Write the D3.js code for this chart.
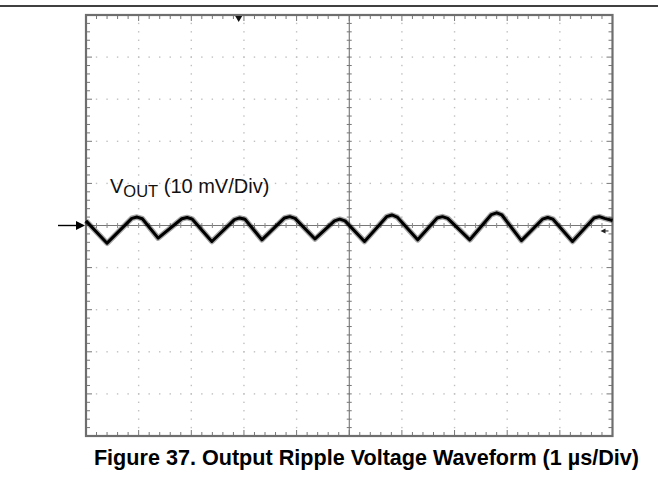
<!DOCTYPE html>
<html>
<head>
<meta charset="utf-8">
<script src="https://cdn.jsdelivr.net/npm/d3@7"></script>
<style>
  html, body { margin: 0; padding: 0; background: #fff; }
  svg { display: block; }
</style>
</head>
<body>
<svg id="chart" width="658" height="481"></svg>
<script>
// ---- data (time in µs, ripple in mV) ----
const traceTime = [0.00, 0.40, 0.87, 0.97, 1.07, 1.37, 1.82, 1.92, 2.02, 2.39,
                   2.82, 2.92, 3.02, 3.34, 3.77, 3.87, 3.97, 4.35, 4.72, 4.82,
                   4.92, 5.29, 5.71, 5.81, 5.91, 6.30, 6.67, 6.77, 6.87, 7.29,
                   7.70, 7.80, 7.90, 8.27, 8.67, 8.77, 8.87, 9.24, 9.65, 9.75,
                   9.85, 10.00];
const traceMv   = [1.1, -4.2, 1.7, 2.0, 1.6, -3.0, 1.6, 1.9, 1.5, -3.8,
                   1.4, 1.8, 1.5, -3.4, 1.8, 2.1, 1.7, -3.2, 1.1, 1.5,
                   1.1, -3.8, 2.1, 2.5, 2.0, -3.4, 1.8, 2.1, 1.7, -3.4,
                   2.6, 3.0, 2.5, -3.6, 1.5, 1.9, 1.5, -3.8, 1.8, 2.1,
                   1.7, 1.2];
const timeDivs = [0, 1, 2, 3, 4, 5, 6, 7, 8, 9, 10];        // µs (1 µs/Div)
const voltDivs = [-50, -40, -30, -20, -10, 0, 10, 20, 30, 40, 50]; // mV (10 mV/Div)
const channelLabel = "V";
const channelSub = "OUT";
const channelScale = " (10 mV/Div)";
const triggerTime = 2.9;   // trigger position marker (µs)
const captionText = "Figure 37. Output Ripple Voltage Waveform (1 µs/Div)";

// ---- layout ----
const svg = d3.select("#chart");
const W = 658, H = 481;
const X0 = 86, X1 = 612.5, Y0 = 15, Y1 = 436;

const x = d3.scaleLinear().domain([0, 10]).range([X0, X1]);
const y = d3.scaleLinear().domain([-50, 50]).range([Y1, Y0]);

// top rule
svg.append("line").attr("x1", 0).attr("x2", W).attr("y1", 6).attr("y2", 6)
  .attr("stroke", "#000").attr("stroke-width", 1.6);

const g = svg.append("g");

g.append("rect").attr("x", X0).attr("y", Y0).attr("width", X1 - X0).attr("height", Y1 - Y0)
  .attr("fill", "#fff");

// dotted grid
const minorT = d3.range(0, 10.001, 0.2);
const minorV = d3.range(-50, 50.001, 2);
timeDivs.filter(d => d > 0 && d < 10 && d !== 5).forEach(t => {
  g.append("g").selectAll("rect").data(minorV.filter(v => v > -50 && v < 50)).join("rect")
    .attr("x", x(t) - 0.7).attr("y", v => y(v) - 0.7).attr("width", 1.4).attr("height", 1.4)
    .attr("fill", "#c0c0c0");
});
voltDivs.filter(d => d > -50 && d < 50 && d !== 0).forEach(v => {
  g.append("g").selectAll("rect").data(minorT.filter(t => t > 0 && t < 10)).join("rect")
    .attr("x", t => x(t) - 0.7).attr("y", y(v) - 0.7).attr("width", 1.4).attr("height", 1.4)
    .attr("fill", "#c0c0c0");
});

// center axes with minor ticks
g.append("line").attr("x1", x(5)).attr("x2", x(5)).attr("y1", Y0).attr("y2", Y1)
  .attr("stroke", "#666").attr("stroke-width", 1);
g.append("g").selectAll("line").data(minorV).join("line")
  .attr("x1", x(5) - 2.5).attr("x2", x(5) + 2.5).attr("y1", v => y(v)).attr("y2", v => y(v))
  .attr("stroke", "#777").attr("stroke-width", 1);
g.append("line").attr("x1", X0).attr("x2", X1).attr("y1", y(0)).attr("y2", y(0))
  .attr("stroke", "#777").attr("stroke-width", 1);
g.append("g").selectAll("line").data(minorT).join("line")
  .attr("x1", t => x(t)).attr("x2", t => x(t)).attr("y1", y(0) - 2.5).attr("y2", y(0) + 2.5)
  .attr("stroke", "#888").attr("stroke-width", 1);

// edge ticks
const isMajor = (d, step) => Math.abs(d / step - Math.round(d / step)) < 1e-6;
const tk = g.append("g").attr("stroke", "#777").attr("stroke-width", 1);
minorT.forEach(t => {
  const L = isMajor(t, 1) ? 6 : 4;
  tk.append("line").attr("x1", x(t)).attr("x2", x(t)).attr("y1", Y0).attr("y2", Y0 + L);
  tk.append("line").attr("x1", x(t)).attr("x2", x(t)).attr("y1", Y1).attr("y2", Y1 - L);
});
minorV.forEach(v => {
  const L = isMajor(v, 10) ? 6 : 4;
  tk.append("line").attr("y1", y(v)).attr("y2", y(v)).attr("x1", X0).attr("x2", X0 + L);
  tk.append("line").attr("y1", y(v)).attr("y2", y(v)).attr("x1", X1).attr("x2", X1 - L);
});

// frame
g.append("rect").attr("x", X0).attr("y", Y0).attr("width", X1 - X0).attr("height", Y1 - Y0)
  .attr("fill", "none").attr("stroke", "#6e6e6e").attr("stroke-width", 2.2);

// waveform (fuzzy band + dark core)
const pts = traceTime.map((t, i) => [t, traceMv[i]]);
const line = d3.line().x(d => x(d[0])).y(d => y(d[1])).curve(d3.curveLinear);
g.append("path").attr("d", line(pts)).attr("fill", "none")
  .attr("stroke", "#000").attr("stroke-opacity", 0.35).attr("stroke-width", 5.6)
  .attr("stroke-linejoin", "round");
g.append("path").attr("d", line(pts)).attr("fill", "none")
  .attr("stroke", "#000").attr("stroke-width", 3).attr("stroke-linejoin", "round");

// trigger marker (top)
const tx = x(triggerTime);
g.append("path").attr("d", `M${tx - 3.5},${Y0 + 1}L${tx + 3.5},${Y0 + 1}L${tx},${Y0 + 7}Z`).attr("fill", "#111");

// ground/reference arrow (left)
const gy = y(0);
svg.append("line").attr("x1", 58).attr("x2", 79).attr("y1", gy).attr("y2", gy)
  .attr("stroke", "#000").attr("stroke-width", 1.4);
svg.append("path").attr("d", `M${X0 - 1},${gy}L${X0 - 10},${gy - 4.5}L${X0 - 10},${gy + 4.5}Z`).attr("fill", "#000");

// small marker (right)
const ry = y(-1.3);
g.append("path").attr("d", `M${X1 - 12},${ry}L${X1 - 7},${ry - 2.5}L${X1 - 7},${ry + 2.5}Z`).attr("fill", "#222");
g.append("line").attr("x1", X1 - 8).attr("x2", X1 - 4).attr("y1", ry).attr("y2", ry)
  .attr("stroke", "#222").attr("stroke-width", 1);

// channel label
const lbl = svg.append("text").attr("x", 110).attr("y", 193)
  .attr("font-family", "Liberation Sans, Arial, sans-serif").attr("font-size", 20).attr("fill", "#111");
lbl.append("tspan").text(channelLabel);
lbl.append("tspan").attr("dy", 4).attr("font-size", 16.5).text(channelSub);
lbl.append("tspan").attr("dy", -4).text(channelScale);

// caption
svg.append("text").attr("x", 366.5).attr("y", 465).attr("text-anchor", "middle")
  .attr("font-family", "Liberation Sans, Arial, sans-serif").attr("font-weight", "bold")
  .attr("font-size", 21.6).attr("fill", "#000").text(captionText);
</script>
</body>
</html>
